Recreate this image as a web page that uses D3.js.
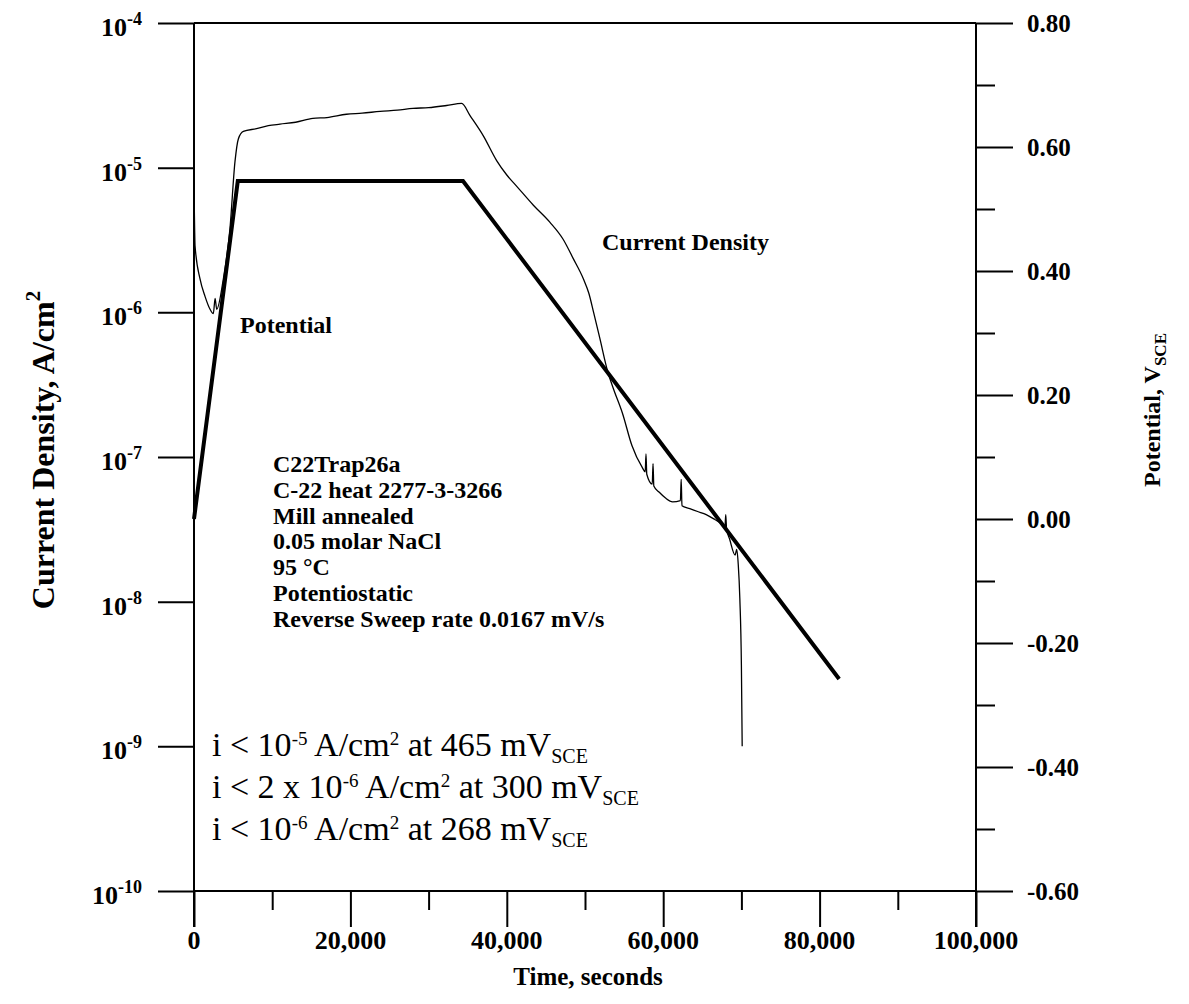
<!DOCTYPE html>
<html>
<head>
<meta charset="utf-8">
<script src="https://cdn.jsdelivr.net/npm/d3@7"></script>
<style>
  html, body { margin: 0; padding: 0; background: #fff; }
  svg text { font-family: "Liberation Serif", "Times New Roman", serif; fill: #000; }
</style>
</head>
<body>
<svg id="chart" width="1189" height="1004"></svg>
<script>
// ---------- data ----------
const currentTime = [0, 80, 130, 770, 1410, 2050, 2470, 2700, 2900, 3750, 4600, 5240, 5670, 6310, 8000, 9500, 11000, 13000, 15200, 17000, 19500, 21500, 23800, 26000, 28000, 30000, 32300, 34230,
  35300, 37000, 38700, 40000, 41300, 43400, 45500, 47200, 48500, 49800, 50500, 51100, 51900, 52900, 53600, 54800, 56000, 57300,
  57700, 57800, 57900, 58600, 58700, 58800, 59500, 60300, 61200, 62200, 62300, 62400, 63400, 64400, 65500, 66600, 67300, 67900, 68000, 68100, 68500, 69200, 69400, 69600, 69800, 70000, 70100];
const currentDensity = [7.1e-6, 3.8e-6, 2.9e-6, 1.7e-6, 1.29e-6, 1.05e-6, 9.8e-7, 1.25e-6, 1.05e-6, 1.7e-6, 3.8e-6, 1.1e-5, 1.58e-5, 1.78e-5, 1.86e-5, 1.95e-5, 2.0e-5, 2.06e-5, 2.19e-5, 2.22e-5, 2.34e-5, 2.38e-5, 2.45e-5, 2.5e-5, 2.57e-5, 2.6e-5, 2.69e-5, 2.78e-5,
  2.29e-5, 1.66e-5, 1.12e-5, 8.9e-6, 7.4e-6, 5.5e-6, 4.2e-6, 3.2e-6, 2.35e-6, 1.7e-6, 1.35e-6, 1.0e-6, 6.6e-7, 3.9e-7, 3.0e-7, 2.0e-7, 1.2e-7, 8.5e-8,
  7.9e-8, 1.05e-7, 7.6e-8, 6.5e-8, 9.0e-8, 6.3e-8, 5.7e-8, 5.2e-8, 4.9e-8, 5.0e-8, 7.0e-8, 4.6e-8, 4.4e-8, 4.2e-8, 4.0e-8, 3.7e-8, 3.5e-8, 3.3e-8, 4.0e-8, 3.2e-8, 2.7e-8, 2.1e-8, 2.3e-8, 1.8e-8, 1.05e-8, 3.6e-9, 1.0e-9];

const potentialTime = [0, 5600, 34400, 82500];
const potentialValue = [0.0, 0.545, 0.545, -0.258];

const xTicksMajor = [0, 20000, 40000, 60000, 80000, 100000];
const xTickLabels = ["0", "20,000", "40,000", "60,000", "80,000", "100,000"];
const xTicksMinor = [10000, 30000, 50000, 70000, 90000];
const leftTicks = [1e-4, 1e-5, 1e-6, 1e-7, 1e-8, 1e-9, 1e-10];
const leftTickExp = ["-4", "-5", "-6", "-7", "-8", "-9", "-10"];
const rightTicksMajor = [0.8, 0.6, 0.4, 0.2, 0.0, -0.2, -0.4, -0.6];
const rightTickLabels = ["0.80", "0.60", "0.40", "0.20", "0.00", "-0.20", "-0.40", "-0.60"];
const rightTicksMinor = [0.7, 0.5, 0.3, 0.1, -0.1, -0.3, -0.5];

const noteLines = ["C22Trap26a", "C-22 heat 2277-3-3266", "Mill annealed", "0.05 molar NaCl", "95 \u00B0C", "Potentiostatic", "Reverse Sweep rate 0.0167 mV/s"];

// ---------- layout ----------
const L = 194, R = 976, T = 23, B = 891;
const svg = d3.select("#chart");

const x = d3.scaleLinear().domain([0, 100000]).range([L, R]);
const yL = d3.scaleLog().domain([1e-10, 1e-4]).range([B, T]);
const yR = d3.scaleLinear().domain([-0.6, 0.8]).range([B, T]);

// ---------- axes ----------
function styleAxis(g) {
  g.select(".domain").remove();
  g.selectAll(".tick line").attr("stroke", "#000").attr("stroke-width", 2);
  g.selectAll(".tick text").remove();
}

svg.append("g").attr("transform", `translate(0,${B})`)
  .call(d3.axisBottom(x).tickValues(xTicksMajor).tickSize(36).tickFormat(""))
  .call(styleAxis);
svg.append("g").attr("transform", `translate(0,${B})`)
  .call(d3.axisBottom(x).tickValues(xTicksMinor).tickSize(19).tickFormat(""))
  .call(styleAxis);
svg.append("g").attr("transform", `translate(${L},0)`)
  .call(d3.axisLeft(yL).tickValues(leftTicks).tickSize(36).tickFormat(""))
  .call(styleAxis);
svg.append("g").attr("transform", `translate(${R},0)`)
  .call(d3.axisRight(yR).tickValues(rightTicksMajor).tickSize(37).tickFormat(""))
  .call(styleAxis);
svg.append("g").attr("transform", `translate(${R},0)`)
  .call(d3.axisRight(yR).tickValues(rightTicksMinor).tickSize(19).tickFormat(""))
  .call(styleAxis);

const frame = svg.append("g").attr("stroke", "#000").attr("stroke-width", 2);
frame.append("line").attr("x1", L).attr("x2", L).attr("y1", T).attr("y2", B + 36);
frame.append("line").attr("x1", R).attr("x2", R).attr("y1", T).attr("y2", B + 36);
frame.append("line").attr("x1", L).attr("x2", R).attr("y1", T).attr("y2", T);
frame.append("line").attr("x1", L).attr("x2", R).attr("y1", B).attr("y2", B);

// tick labels - bottom
svg.append("g").selectAll("text").data(xTicksMajor).join("text")
  .attr("x", d => x(d)).attr("y", B + 58)
  .attr("text-anchor", "middle").attr("font-weight", "bold").attr("font-size", 26)
  .text((d, i) => xTickLabels[i]);

// tick labels - left
const lt = svg.append("g").selectAll("text").data(leftTicks).join("text")
  .attr("x", 142).attr("y", d => yL(d) + 13)
  .attr("text-anchor", "end").attr("font-weight", "bold").attr("font-size", 26);
lt.append("tspan").text("10");
lt.append("tspan").attr("font-size", 18).attr("dy", -11).text((d, i) => leftTickExp[i]);

// tick labels - right
svg.append("g").selectAll("text").data(rightTicksMajor).join("text")
  .attr("x", 1027).attr("y", d => yR(d) + 9)
  .attr("text-anchor", "start").attr("font-weight", "bold").attr("font-size", 25)
  .text((d, i) => rightTickLabels[i]);

// axis titles
svg.append("text").attr("x", 588).attr("y", 985)
  .attr("text-anchor", "middle").attr("font-weight", "bold").attr("font-size", 25)
  .text("Time, seconds");

const lTitle = svg.append("text")
  .attr("transform", "translate(54,450) rotate(-90)")
  .attr("text-anchor", "middle").attr("font-weight", "bold").attr("font-size", 32);
lTitle.append("tspan").text("Current Density, A/cm");
lTitle.append("tspan").attr("font-size", 21).attr("dy", -14).text("2");

const rTitle = svg.append("text")
  .attr("transform", "translate(1160,410) rotate(-90)")
  .attr("text-anchor", "middle").attr("font-weight", "bold").attr("font-size", 24);
rTitle.append("tspan").text("Potential, V");
rTitle.append("tspan").attr("font-size", 17).attr("dy", 6).text("SCE");

// ---------- series ----------
const curData = currentTime.map((t, i) => [t, currentDensity[i]]);
svg.append("path").datum(curData)
  .attr("fill", "none").attr("stroke", "#000").attr("stroke-width", 1.3).attr("stroke-linejoin", "round")
  .attr("d", d3.line().curve(d3.curveMonotoneX).x(d => x(d[0])).y(d => yL(d[1])));

const potData = potentialTime.map((t, i) => [t, potentialValue[i]]);
svg.append("path").datum(potData)
  .attr("fill", "none").attr("stroke", "#000").attr("stroke-width", 4).attr("stroke-linejoin", "miter")
  .attr("d", d3.line().x(d => x(d[0])).y(d => yR(d[1])));

// ---------- annotations ----------
svg.append("text").attr("x", 240).attr("y", 333)
  .attr("font-weight", "bold").attr("font-size", 24).text("Potential");
svg.append("text").attr("x", 602).attr("y", 250)
  .attr("font-weight", "bold").attr("font-size", 24).text("Current Density");

svg.append("g").selectAll("text").data(noteLines).join("text")
  .attr("x", 273).attr("y", (d, i) => 472 + i * 25.8)
  .attr("font-weight", "bold").attr("font-size", 24)
  .text(d => d);

const crit = [
  {pre: "i < ", base: "10", exp: "-5", post: " A/cm", at: " at 465 mV"},
  {pre: "i < 2 x ", base: "10", exp: "-6", post: " A/cm", at: " at 300 mV"},
  {pre: "i < ", base: "10", exp: "-6", post: " A/cm", at: " at 268 mV"}
];
const cg = svg.append("g").selectAll("text").data(crit).join("text")
  .attr("x", 212).attr("y", (d, i) => 756 + i * 42)
  .attr("font-size", 34);
cg.append("tspan").text(d => d.pre + d.base);
cg.append("tspan").attr("font-size", 19).attr("dy", -11).text(d => d.exp);
cg.append("tspan").attr("dy", 11).text(d => d.post);
cg.append("tspan").attr("font-size", 19).attr("dy", -11).text("2");
cg.append("tspan").attr("dy", 11).text(d => d.at);
cg.append("tspan").attr("font-size", 20).attr("dy", 7).text("SCE");
</script>
</body>
</html>
